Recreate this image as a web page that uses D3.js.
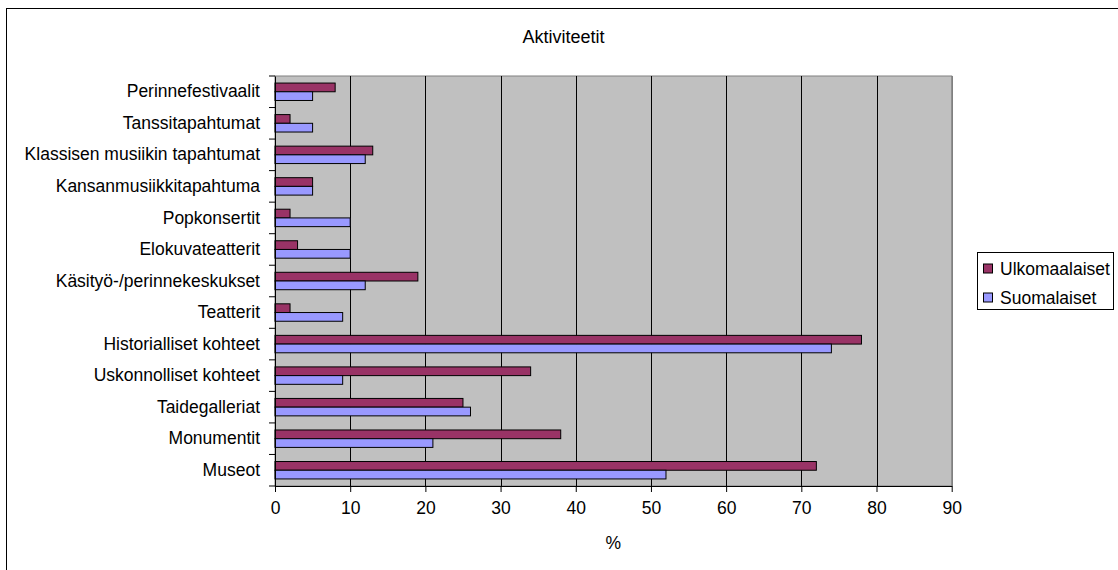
<!DOCTYPE html>
<html>
<head>
<meta charset="utf-8">
<script src="https://cdn.jsdelivr.net/npm/d3@7"></script>
<style>
  html, body { margin: 0; padding: 0; background: #fff; }
  svg { display: block; font-family: "Liberation Sans", Arial, sans-serif; }
</style>
</head>
<body>
<svg id="chart" width="1118" height="570"></svg>
<script>
const title = "Aktiviteetit";
const xTitle = "%";
const categories = [
  "Perinnefestivaalit",
  "Tanssitapahtumat",
  "Klassisen musiikin tapahtumat",
  "Kansanmusiikkitapahtuma",
  "Popkonsertit",
  "Elokuvateatterit",
  "Käsityö-/perinnekeskukset",
  "Teatterit",
  "Historialliset kohteet",
  "Uskonnolliset kohteet",
  "Taidegalleriat",
  "Monumentit",
  "Museot"
];
const seriesNames = ["Ulkomaalaiset", "Suomalaiset"];
const ulkomaalaiset = [8, 2, 13, 5, 2, 3, 19, 2, 78, 34, 25, 38, 72];
const suomalaiset   = [5, 5, 12, 5, 10, 10, 12, 9, 74, 9, 26, 21, 52];
const xTicks = [0, 10, 20, 30, 40, 50, 60, 70, 80, 90];
const colors = ["#993366", "#9999FF"];

const FS = 17.5;
const svg = d3.select("#chart");
const plot = { left: 275, right: 951.7, top: 76, bottom: 486 };

// outer chart border (only left/top visible)
svg.append("rect")
  .attr("x", 6.5).attr("y", 8.5)
  .attr("width", 1140).attr("height", 600)
  .attr("fill", "#fff").attr("stroke", "#000").attr("stroke-width", 1);

const x = d3.scaleLinear().domain([0, 90]).range([plot.left, plot.right]);
const y = d3.scaleBand().domain(categories).range([plot.top, plot.bottom]).padding(0);
const ySub = d3.scaleBand().domain(seriesNames).range([0, y.bandwidth()])
  .paddingInner(0).paddingOuter(0.81);

// plot background
svg.append("rect")
  .attr("x", plot.left).attr("y", plot.top)
  .attr("width", plot.right - plot.left).attr("height", plot.bottom - plot.top)
  .attr("fill", "#C0C0C0").attr("stroke", "#808080").attr("stroke-width", 1);

// gridlines
svg.append("g").selectAll("line")
  .data(xTicks.filter(d => d > 0))
  .join("line")
  .attr("x1", d => Math.round(x(d)) + 0.5).attr("x2", d => Math.round(x(d)) + 0.5)
  .attr("y1", plot.top).attr("y2", plot.bottom)
  .attr("stroke", d => d === 90 ? "#808080" : "#000").attr("stroke-width", 1);

// bars
const data = categories.map((c, i) => ({ cat: c, vals: [ulkomaalaiset[i], suomalaiset[i]] }));
const g = svg.append("g");
data.forEach(d => {
  d.vals.forEach((v, j) => {
    g.append("rect")
      .attr("x", x(0))
      .attr("y", y(d.cat) + ySub(seriesNames[j]))
      .attr("width", x(v) - x(0))
      .attr("height", ySub.bandwidth())
      .attr("fill", colors[j])
      .attr("stroke", "#000").attr("stroke-width", 1);
  });
});

// x axis
const xAxis = d3.axisBottom(x).tickValues(xTicks).tickSize(6).tickPadding(10).tickSizeOuter(0);
const xg = svg.append("g").attr("transform", `translate(0,${plot.bottom})`).call(xAxis);
xg.select(".domain").attr("stroke", "#000");
xg.selectAll(".tick line").attr("stroke", "#000");
xg.selectAll("text").attr("font-size", FS).attr("font-family", "Liberation Sans, Arial, sans-serif").attr("fill", "#000");

// y axis
const yAxis = d3.axisLeft(y).tickSize(0).tickPadding(15);
const yg = svg.append("g").attr("transform", `translate(${plot.left},0)`).call(yAxis);
yg.select(".domain").attr("stroke", "#000");
yg.selectAll("text").attr("font-size", FS).attr("font-family", "Liberation Sans, Arial, sans-serif").attr("fill", "#000");
// category separator ticks
svg.append("g").selectAll("line")
  .data(categories.concat(["__end"]))
  .join("line")
  .attr("x1", plot.left - 6).attr("x2", plot.left)
  .attr("y1", (d, i) => plot.top + i * y.step())
  .attr("y2", (d, i) => plot.top + i * y.step())
  .attr("stroke", "#000");

// title
svg.append("text")
  .attr("x", 563.5).attr("y", 43)
  .attr("text-anchor", "middle").attr("font-size", 18)
  .text(title);

// x title
svg.append("text")
  .attr("x", (plot.left + plot.right) / 2).attr("y", 549)
  .attr("text-anchor", "middle").attr("font-size", FS)
  .text(xTitle);

// legend
const lg = svg.append("g");
lg.append("rect").attr("x", 977.5).attr("y", 252.5).attr("width", 136).attr("height", 57)
  .attr("fill", "#fff").attr("stroke", "#000");
seriesNames.forEach((s, i) => {
  const cy = 268.5 + i * 29;
  lg.append("rect").attr("x", 983.5).attr("y", cy - 4.5).attr("width", 9).attr("height", 9)
    .attr("fill", colors[i]).attr("stroke", "#000");
  lg.append("text").attr("x", 1000).attr("y", cy + 6).attr("font-size", FS).text(s);
});
</script>
</body>
</html>
